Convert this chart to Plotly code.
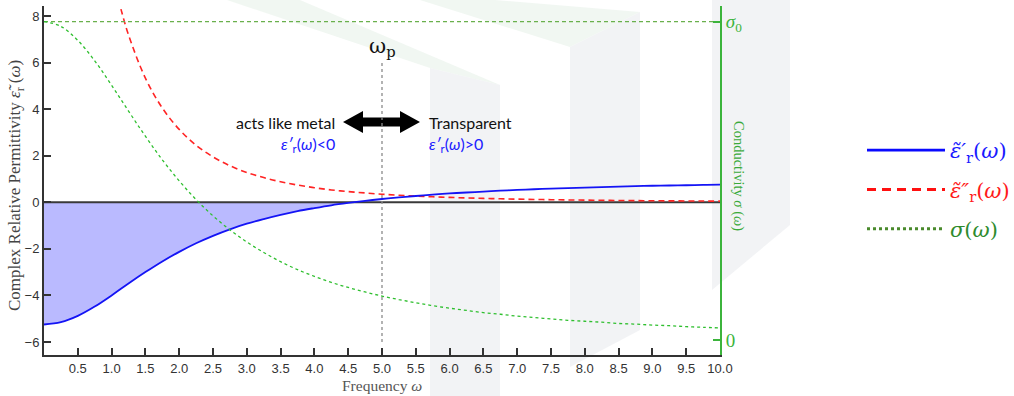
import plotly.graph_objects as go

# ---------------- data ----------------
omega = [0.0, 0.25, 0.5, 0.75, 1.0, 1.25, 1.5, 1.75, 2.0, 2.25, 2.5, 2.75, 3.0, 3.25, 3.5,
         3.75, 4.0, 4.25, 4.5, 4.75, 5.0, 5.25, 5.5, 5.75, 6.0, 6.25, 6.5, 6.75, 7.0, 7.25,
         7.5, 7.75, 8.0, 8.25, 8.5, 8.75, 9.0, 9.25, 9.5, 9.75, 10.0]
eps_real = [-5.25, -5.15, -4.88, -4.48, -4.00, -3.49, -3.00, -2.54, -2.13, -1.76, -1.44,
            -1.16, -0.92, -0.72, -0.54, -0.38, -0.25, -0.13, -0.03, 0.06, 0.14, 0.21, 0.27,
            0.33, 0.38, 0.42, 0.46, 0.50, 0.53, 0.56, 0.59, 0.61, 0.63, 0.65, 0.67, 0.69,
            0.71, 0.72, 0.73, 0.75, 0.76]
omega_imag = [1.1, 1.15, 1.25, 1.5, 1.75, 2.0, 2.25, 2.5, 2.75, 3.0, 3.25, 3.5, 3.75, 4.0,
              4.25, 4.5, 4.75, 5.0, 5.25, 5.5, 5.75, 6.0, 6.25, 6.5, 6.75, 7.0, 7.25, 7.5,
              7.75, 8.0, 8.25, 8.5, 8.75, 9.0, 9.25, 9.5, 9.75, 10.0]
eps_imag = [8.72, 8.17, 7.19, 5.33, 4.05, 3.13, 2.45, 1.95, 1.57, 1.28, 1.06, 0.88, 0.74,
            0.625, 0.53, 0.46, 0.40, 0.345, 0.30, 0.265, 0.235, 0.21, 0.186, 0.166, 0.149,
            0.135, 0.122, 0.111, 0.101, 0.092, 0.084, 0.077, 0.071, 0.065, 0.060, 0.056,
            0.052, 0.048]
sigma_ratio = [1.0, 0.985, 0.941, 0.877, 0.80, 0.719, 0.64, 0.566, 0.50, 0.441, 0.390, 0.346,
               0.308, 0.275, 0.246, 0.221, 0.20, 0.181, 0.165, 0.151, 0.138, 0.127, 0.117,
               0.108, 0.10, 0.093, 0.086, 0.081, 0.075, 0.071, 0.066, 0.062, 0.059, 0.056,
               0.052, 0.050, 0.047, 0.045, 0.042, 0.040, 0.038]
sigma0 = 1.0
omega_p = 5.0
eps_zero_cross = 4.58
x_ticks = [0.5, 1.0, 1.5, 2.0, 2.5, 3.0, 3.5, 4.0, 4.5, 5.0, 5.5, 6.0, 6.5, 7.0, 7.5, 8.0,
           8.5, 9.0, 9.5, 10.0]
y_ticks = [-6, -4, -2, 0, 2, 4, 6, 8]
sigma_ticks = [0, 1]
sigma_ticktext = ["0", "<i>σ</i><sub>0</sub>"]

# ---------------- layout geometry ----------------
W, H = 1014, 396
PL, PR, PT, PB = 44, 720, 6, 355


def px(x):
    return (x - PL) / (PR - PL)


def py(y):
    return (PB - y) / (PB - PT)


def poly(points):
    return "M " + " L ".join(f"{px(a):.5f},{py(b):.5f}" for a, b in points) + " Z"


BLUE = "#1414f5"
RED = "#ff2424"
GREEN = "#2fbf2f"
DARK = "#333333"
SERIF = "Liberation Serif"
SANS = "Liberation Sans"

fig = go.Figure()

# fill under negative epsilon'
fx = [o for o, v in zip(omega, eps_real) if v <= 0] + [eps_zero_cross]
fy = [v for v in eps_real if v <= 0] + [0]
fig.add_trace(go.Scatter(x=fx, y=fy, mode="lines", fill="tozeroy",
                         fillcolor="rgba(0,0,255,0.27)", line=dict(width=0, shape="spline"),
                         showlegend=False, hoverinfo="skip"))
# zero line
fig.add_trace(go.Scatter(x=[omega[0], omega[-1]], y=[0, 0], mode="lines",
                         line=dict(color="#3a3a3a", width=2), showlegend=False))
# sigma0 dashed line
fig.add_trace(go.Scatter(x=[omega[0], omega[-1]], y=[sigma0, sigma0], yaxis="y2", mode="lines",
                         line=dict(color="#6ab04c", width=1.2, dash="4px,3px"),
                         showlegend=False))
# conductivity
fig.add_trace(go.Scatter(x=omega, y=sigma_ratio, yaxis="y2", mode="lines",
                         line=dict(color=GREEN, width=1.3, dash="dot", shape="spline"),
                         showlegend=False))
# imaginary part
fig.add_trace(go.Scatter(x=omega_imag, y=eps_imag, mode="lines",
                         line=dict(color=RED, width=1.6, dash="6px,4px", shape="spline"),
                         showlegend=False))
# real part
fig.add_trace(go.Scatter(x=omega, y=eps_real, mode="lines",
                         line=dict(color=BLUE, width=1.8, shape="spline"),
                         showlegend=False))

# legend-only entries
fig.add_trace(go.Scatter(x=[None], y=[None], mode="lines", legendgroup="a",
                         line=dict(color="#0a0aff", width=2.6),
                         name="<span style='color:#1a1aff'><i>ε̃′</i><sub>r</sub>(<i>ω</i>)</span>"))
fig.add_trace(go.Scatter(x=[None], y=[None], mode="lines", legendgroup="b",
                         line=dict(color="#ff1010", width=3, dash="9px,6px"),
                         name="<span style='color:#ff1a1a'><i>ε̃″</i><sub>r</sub>(<i>ω</i>)</span>"))
fig.add_trace(go.Scatter(x=[None], y=[None], mode="lines", legendgroup="c",
                         line=dict(color="#4a8a2c", width=3, dash="dot"),
                         name="<span style='color:#2e8b2e'><i>σ</i>(<i>ω</i>)</span>"))

# ---------------- background watermark ----------------
LG = "rgba(232,242,234,0.6)"
GR = "rgba(236,238,241,0.7)"
shapes = [
    dict(type="path", path=poly([(227, 0), (300, 0), (500, 85), (430, 68)]), fillcolor=LG),
    dict(type="path", path=poly([(430, 68), (500, 85), (500, 396), (430, 396)]), fillcolor=GR),
    dict(type="path", path=poly([(420, 0), (495, 0), (640, 12), (570, 47)]), fillcolor=LG),
    dict(type="path", path=poly([(570, 47), (640, 12), (640, 330), (570, 367)]), fillcolor=GR),
    dict(type="path", path=poly([(712, 0), (790, 0), (790, 225), (712, 290)]), fillcolor=GR),
]
for s in shapes:
    s.update(xref="paper", yref="paper", layer="below", line=dict(width=0))

# double arrow
arrow = [(343, 122), (363, 111), (363, 117.5), (400, 117.5), (400, 111), (420, 122),
         (400, 133), (400, 126.5), (363, 126.5), (363, 133)]
shapes.append(dict(type="path", path=poly(arrow), xref="paper", yref="paper",
                   fillcolor="black", line=dict(width=0), layer="above"))
# omega_p marker line
shapes.append(dict(type="line", x0=omega_p, x1=omega_p, y0=-6.0, y1=6.0, xref="x", yref="y",
                   line=dict(color="#8a8a8a", width=1.3, dash="dot"), layer="above"))

annotations = [
    dict(x=px(16), y=py(186), text="Complex Relative Permittivity <i>ε̃</i><sub>r</sub> (<i>ω</i>)",
         textangle=-90, font=dict(family=SERIF, size=17, color="#444")),
    dict(x=px(739), y=py(176), text="Conductivity <i>σ</i> (<i>ω</i>)", textangle=90,
         font=dict(family=SERIF, size=14.5, color="#3aaa3a")),
    dict(x=px(382), y=py(385), text="Frequency <i>ω</i>",
         font=dict(family=SERIF, size=15.5, color="#555")),
    dict(x=px(383), y=py(47), text="ω<sub>p</sub>",
         font=dict(family="DejaVu Serif", size=21, color="#111")),
    dict(x=px(337), y=py(122), text="acts like metal", xanchor="right",
         font=dict(family="Lato", size=16, color="#111")),
    dict(x=px(427), y=py(122), text="Transparent", xanchor="left",
         font=dict(family="Lato", size=16, color="#111")),
    dict(x=px(337), y=py(144), text="<i>ε′</i><sub>r</sub>(<i>ω</i>)&lt;0", xanchor="right",
         font=dict(family="Lato", size=16, color="#2020ff")),
    dict(x=px(427), y=py(144), text="<i>ε′</i><sub>r</sub>(<i>ω</i>)&gt;0", xanchor="left",
         font=dict(family="Lato", size=16, color="#2020ff")),
]
for a in annotations:
    a.setdefault("xanchor", "center")
    a.update(xref="paper", yref="paper", yanchor="middle", showarrow=False)

fig.update_layout(
    width=W, height=H,
    margin=dict(l=PL, r=W - PR, t=PT, b=H - PB, autoexpand=False),
    paper_bgcolor="white", plot_bgcolor="rgba(0,0,0,0)",
    shapes=shapes, annotations=annotations,
    xaxis=dict(range=[0, 10], tickvals=x_ticks, tickformat=".1f", ticks="inside", ticklen=7,
               tickwidth=1.5, tickcolor=DARK, showline=True, linecolor=DARK, linewidth=2,
               showgrid=False, zeroline=False,
               tickfont=dict(family=SANS, size=13, color=DARK)),
    yaxis=dict(range=[-6.56, 8.43], tickvals=y_ticks, ticks="inside", ticklen=7,
               tickwidth=1.5, tickcolor=DARK, showline=True, linecolor=DARK, linewidth=2,
               showgrid=False, zeroline=False,
               tickfont=dict(family=SANS, size=13, color=DARK)),
    yaxis2=dict(range=[-0.047, 1.049], overlaying="y", side="right", tickvals=sigma_ticks,
                ticktext=sigma_ticktext, ticks="inside", ticklen=7, tickwidth=1.5,
                tickcolor="#3cb43c", showline=True, linecolor="#3cb43c", linewidth=2,
                showgrid=False, zeroline=False,
                tickfont=dict(family=SERIF, size=19, color="#3cb43c")),
    legend=dict(x=px(862), y=py(130), xanchor="left", yanchor="top",
                font=dict(family="DejaVu Serif", size=21), itemwidth=78, tracegroupgap=9,
                traceorder="grouped", bgcolor="rgba(0,0,0,0)"),
    showlegend=True,
)

fig.write_html("out.html")
